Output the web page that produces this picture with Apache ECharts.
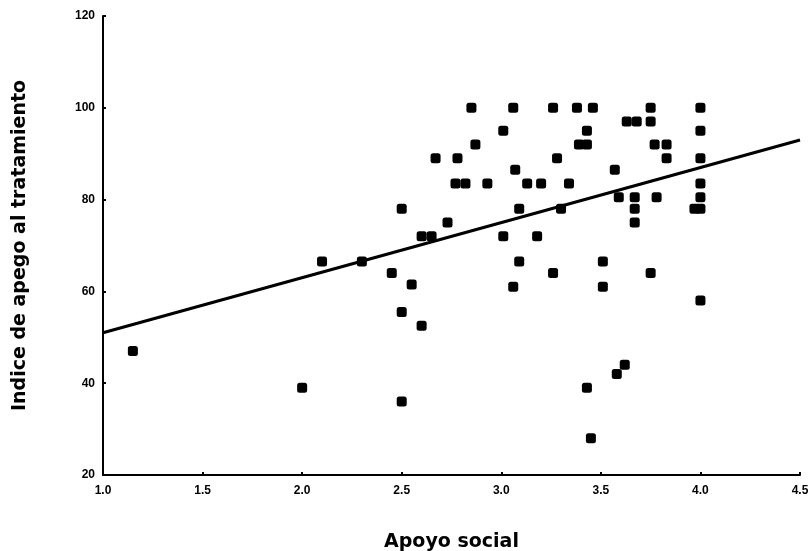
<!DOCTYPE html>
<html>
<head>
<meta charset="utf-8">
<script src="https://cdn.jsdelivr.net/npm/echarts@6/dist/echarts.min.js"></script>
<style>
  html, body { margin: 0; padding: 0; background: #fff; }
  #chart { width: 811px; height: 551px; }
</style>
</head>
<body>
<div id="chart"></div>
<script>
// apoyo social (x) vs indice de apego (y)
const apoyo = [
  1.15, 2.0, 2.1, 2.3, 2.45, 2.5, 2.5, 2.55, 2.5, 2.6,
  2.6, 2.65, 2.67, 2.73, 2.78, 2.77, 2.82, 2.85, 2.87, 2.93,
  3.01, 3.01, 3.06, 3.06, 3.07, 3.09, 3.09, 3.13, 3.2, 3.18,
  3.26, 3.28, 3.26, 3.3, 3.34, 3.38, 3.39, 3.43, 3.43, 3.46,
  3.51, 3.51, 3.45, 3.43, 3.57, 3.59, 3.63, 3.68, 3.67, 3.67,
  3.67, 3.75, 3.75, 3.75, 3.77, 3.83, 3.78, 3.83, 3.62, 3.58,
  4.0, 4.0, 4.0, 4.0, 4.0, 4.0, 3.97, 4.0
]
const apego = [
  47, 39, 66.5, 66.5, 64, 78, 55.5, 61.5, 36, 52.5,
  72, 72, 89, 75, 89, 83.5, 83.5, 100, 92, 83.5,
  95, 72, 100, 61, 86.5, 78, 66.5, 83.5, 83.5, 72,
  100, 89, 64, 78, 83.5, 100, 92, 92, 95, 100,
  66.5, 61, 28, 39, 86.5, 80.5, 97, 97, 80.5, 78,
  75, 100, 97, 64, 92, 92, 80.5, 89, 44, 42,
  100, 95, 89, 83.5, 80.5, 78, 78, 58
]
// recta de regresion, extremos
const rectaX = [1.0, 4.5]
const rectaY = [51, 93]

const xTicks = [1.0, 1.5, 2.0, 2.5, 3.0, 3.5, 4.0, 4.5]

const puntos = apoyo.map((x, i) => [x, apego[i]])
const recta = rectaX.map((x, i) => [x, rectaY[i]])

const font = 'Liberation Sans'
const nameFont = { fontFamily: 'DejaVu Sans', fontWeight: 'bold', fontSize: 19, color: '#000' }

const chart = echarts.init(document.getElementById('chart'))
chart.setOption({
  animation: false,
  grid: { left: 103, right: 11, top: 16, bottom: 76, containLabel: false, outerBoundsMode: 'none' },
  xAxis: {
    type: 'value',
    min: 1.0,
    max: 4.5,
    interval: 0.5,
    name: 'Apoyo social',
    nameLocation: 'middle',
    nameGap: 58,
    nameTextStyle: nameFont,
    axisLine: { lineStyle: { color: '#000', width: 2 } },
    axisTick: { show: true, length: 3, inside: true, lineStyle: { color: '#000', width: 2 } },
    axisLabel: {
      fontFamily: font, fontWeight: 'bold', fontSize: 12, color: '#000', margin: 10,
      formatter: v => xTicks.includes(v) ? v.toFixed(1) : ''
    },
    splitLine: { show: false }
  },
  yAxis: {
    type: 'value',
    min: 20,
    max: 120,
    interval: 20,
    name: 'Indice de apego al tratamiento',
    nameLocation: 'middle',
    nameGap: 73,
    nameTextStyle: nameFont,
    axisLine: { show: true, lineStyle: { color: '#000', width: 2 } },
    axisTick: { show: true, length: 3, inside: true, lineStyle: { color: '#000', width: 2 } },
    axisLabel: { fontFamily: font, fontWeight: 'bold', fontSize: 12, color: '#000', margin: 8 },
    splitLine: { show: false }
  },
  series: [
    {
      type: 'scatter',
      data: puntos,
      symbol: 'roundRect',
      symbolSize: 10,
      itemStyle: { color: '#000', opacity: 1 },
      z: 3
    },
    {
      type: 'line',
      data: recta,
      symbol: 'none',
      lineStyle: { color: '#000', width: 3 },
      z: 2
    }
  ]
})
</script>
</body>
</html>
